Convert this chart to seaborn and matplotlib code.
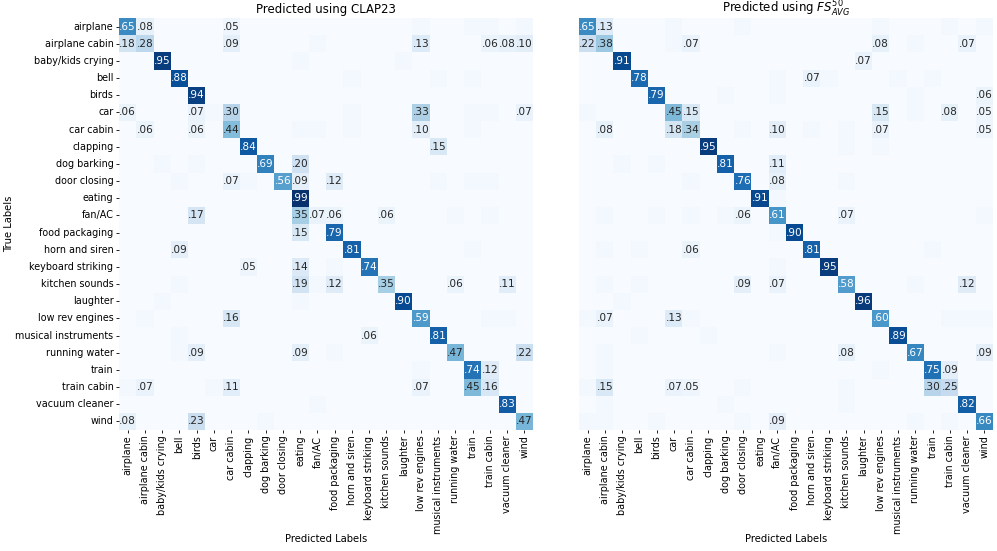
import matplotlib
matplotlib.use("Agg")
import matplotlib.pyplot as plt
import numpy as np
import seaborn as sns

CLASSES = ["airplane", "airplane cabin", "baby/kids crying", "bell", "birds", "car",
           "car cabin", "clapping", "dog barking", "door closing", "eating", "fan/AC",
           "food packaging", "horn and siren", "keyboard striking", "kitchen sounds",
           "laughter", "low rev engines", "musical instruments", "running water",
           "train", "train cabin", "vacuum cleaner", "wind"]

# non-zero cells per true-label row: {predicted column index: share}
CLAP_ROWS = [
    {0: .65, 1: .08, 6: .05, 17: .02, 20: .02, 21: .02, 23: .02},
    {0: .18, 1: .28, 6: .09, 11: .02, 17: .13, 21: .06, 22: .08, 23: .10},
    {2: .95, 10: .02, 16: .02},
    {3: .88, 13: .02, 18: .02, 20: .02},
    {4: .94},
    {0: .06, 4: .07, 5: .02, 6: .30, 13: .02, 17: .33, 20: .02, 21: .02, 23: .07},
    {1: .06, 4: .06, 6: .44, 10: .02, 11: .02, 13: .02, 17: .10, 20: .02},
    {7: .84, 18: .15},
    {2: .02, 4: .02, 8: .69, 10: .20},
    {3: .02, 6: .07, 7: .02, 9: .56, 10: .09, 12: .12, 18: .02, 20: .02, 21: .02},
    {10: .99},
    {4: .17, 10: .35, 11: .07, 12: .06, 15: .06, 19: .02, 21: .02},
    {10: .15, 12: .79},
    {3: .09, 13: .81, 20: .02},
    {7: .05, 10: .14, 12: .02, 14: .74},
    {3: .02, 10: .19, 11: .02, 12: .12, 15: .35, 19: .06, 22: .11},
    {2: .02, 10: .02, 16: .90},
    {1: .02, 6: .16, 17: .59, 21: .02, 22: .02},
    {3: .02, 14: .06, 18: .81},
    {3: .02, 4: .09, 10: .09, 12: .02, 19: .47, 23: .22},
    {17: .02, 20: .74, 21: .12},
    {0: .02, 1: .07, 5: .02, 6: .11, 17: .07, 20: .45, 21: .16},
    {11: .02, 22: .83},
    {0: .08, 4: .23, 8: .02, 23: .47},
]

FS_ROWS = [
    {0: .65, 1: .13, 5: .02, 9: .02, 17: .02, 21: .02, 23: .02},
    {0: .22, 1: .38, 5: .02, 6: .07, 17: .08, 19: .02, 22: .07},
    {2: .91, 16: .07},
    {3: .78, 11: .02, 13: .07, 14: .02, 18: .02, 20: .02},
    {4: .79, 8: .02, 11: .02, 19: .02, 23: .06},
    {0: .02, 5: .45, 6: .15, 17: .15, 19: .02, 21: .08, 23: .05},
    {1: .08, 5: .18, 6: .34, 9: .02, 11: .10, 13: .02, 15: .02, 17: .07, 23: .05},
    {7: .95, 15: .02, 17: .02},
    {2: .02, 4: .02, 8: .81, 11: .11},
    {6: .02, 9: .76, 11: .08, 15: .02},
    {10: .91, 11: .02},
    {1: .02, 4: .02, 6: .02, 8: .02, 9: .06, 11: .61, 15: .07, 23: .02},
    {11: .02, 12: .90},
    {1: .02, 3: .02, 6: .06, 13: .81, 20: .02},
    {11: .02, 14: .95},
    {1: .02, 3: .02, 9: .09, 11: .07, 15: .58, 19: .02, 22: .12},
    {2: .02, 16: .96},
    {0: .02, 1: .07, 5: .13, 6: .02, 17: .60, 21: .02, 22: .02, 23: .02},
    {3: .02, 7: .02, 18: .89},
    {1: .02, 11: .02, 15: .08, 19: .67, 23: .09},
    {1: .02, 17: .02, 20: .75, 21: .09},
    {0: .02, 1: .15, 5: .07, 6: .05, 9: .02, 15: .02, 20: .30, 21: .25},
    {1: .02, 8: .02, 15: .02, 22: .82},
    {0: .02, 1: .02, 4: .02, 9: .02, 11: .09, 19: .02, 21: .02, 23: .66},
]


def to_matrix(rows):
    m = np.zeros((len(CLASSES), len(CLASSES)))
    for i, row in enumerate(rows):
        for j, v in row.items():
            m[i, j] = v
    return m


def labels(m):
    return np.where(m >= 0.05, np.vectorize(lambda v: f"{v:.2f}".lstrip("0"))(m), "")


fig = plt.figure(figsize=(9.97, 5.51), dpi=100)
ax1 = fig.add_axes([0.1194, 0.2196, 0.4152, 0.7477])
ax2 = fig.add_axes([0.5807, 0.2196, 0.4152, 0.7477])

for ax, rows, title, show_y in [
    (ax1, CLAP_ROWS, "Predicted using CLAP23", True),
    (ax2, FS_ROWS, r"Predicted using $FS^{50}_{AVG}$", False),
]:
    m = to_matrix(rows)
    sns.heatmap(m, ax=ax, cmap="Blues", vmin=0, vmax=1, cbar=False,
                annot=labels(m), fmt="", annot_kws={"fontsize": 7.6},
                xticklabels=CLASSES, yticklabels=CLASSES if show_y else False)
    # place titles on a shared baseline so the mathtext one is not lifted
    ax.text(0.5, 1.012, title, transform=ax.transAxes, ha="center",
            va="baseline", fontsize=8.5)
    ax.set_xlabel("Predicted Labels", fontsize=7.2)
    ax.xaxis.set_label_coords(0.5, -0.252)
    ax.tick_params(labelsize=6.9, length=2.5, width=0.6, pad=1.5)
    ax.set_xticklabels(CLASSES, rotation=90)
    if show_y:
        ax.set_ylabel("True Labels", fontsize=7.2)
        ax.yaxis.set_label_coords(-0.254, 0.5)
        ax.set_yticklabels(CLASSES, rotation=0)
    else:
        ax.tick_params(axis="y", left=False)

fig.savefig("out.png", dpi=100)
